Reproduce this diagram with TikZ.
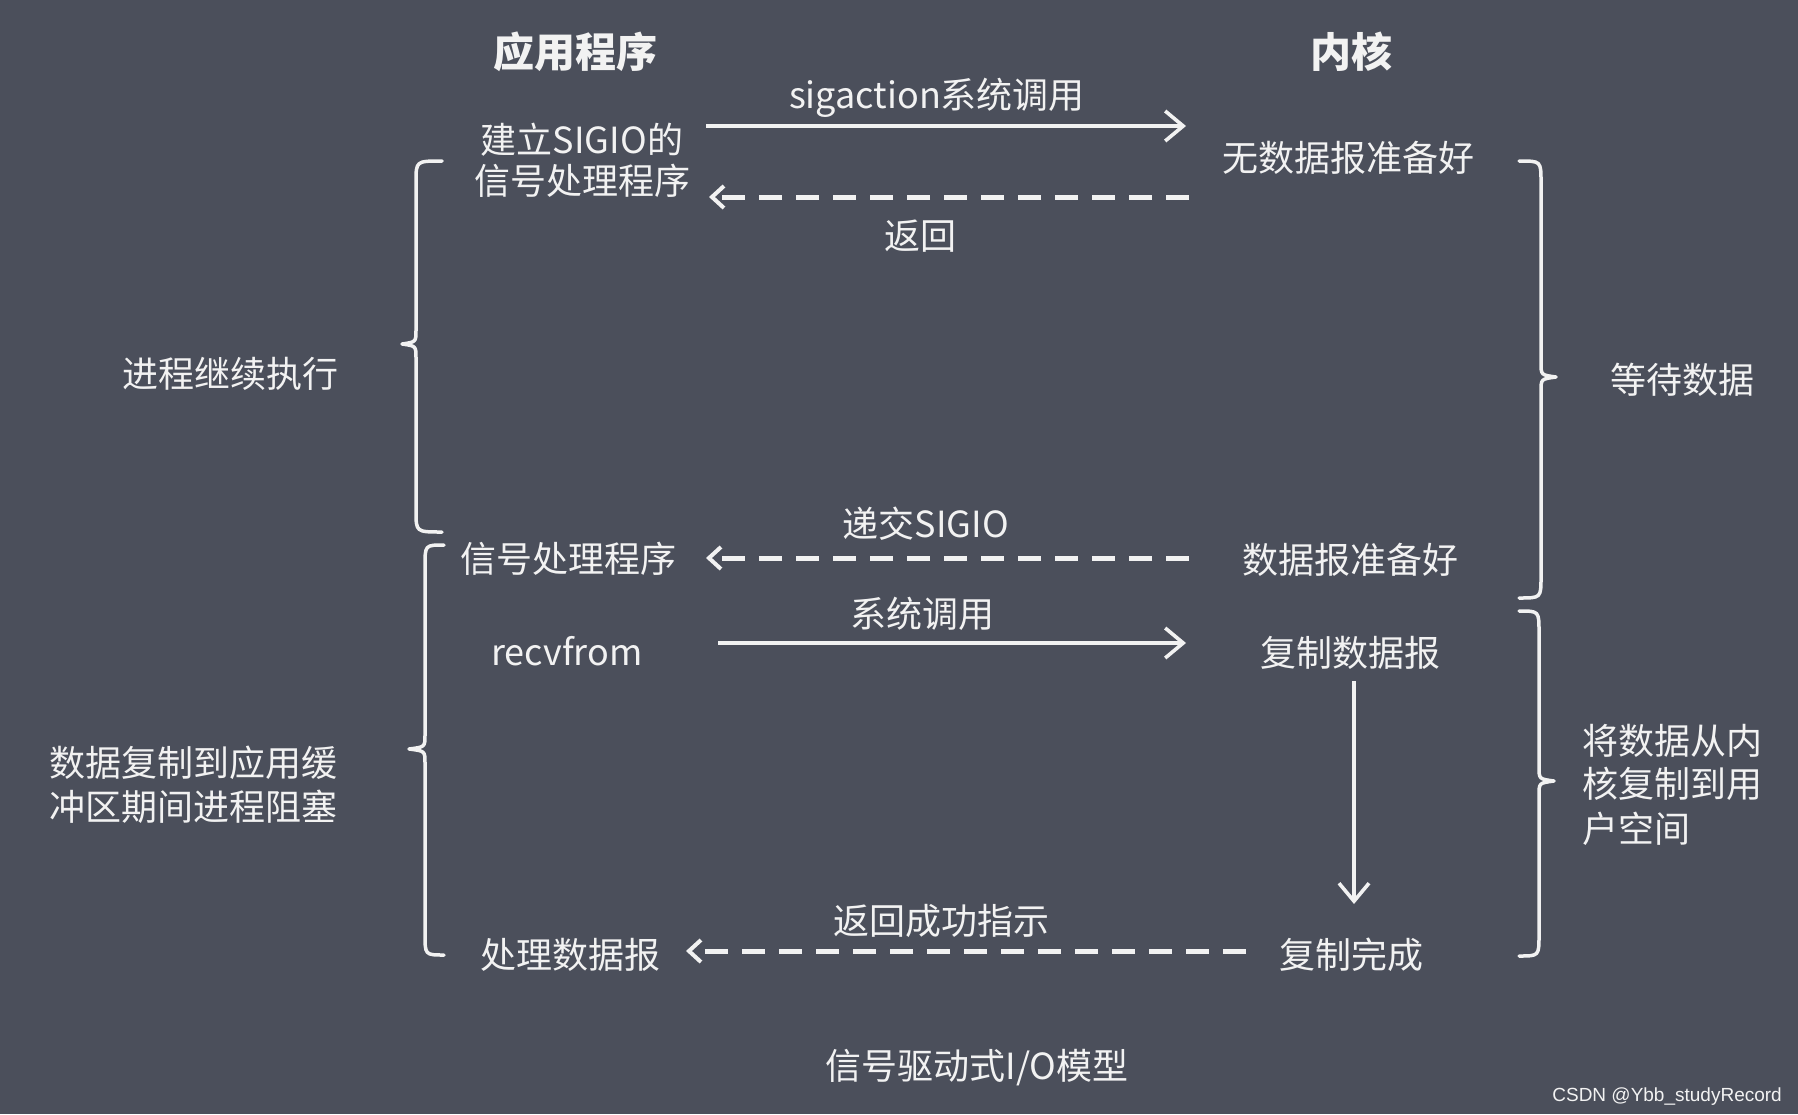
\documentclass[tikz,border=0pt]{standalone}
\usepackage{fontspec}
\setmainfont{Noto Sans CJK SC}
\newfontfamily\wmfont{Liberation Sans}
\usetikzlibrary{arrows.meta}
\definecolor{bgc}{HTML}{4B4F5B}
\definecolor{fgc}{HTML}{F2F2F2}
\begin{document}
\begin{tikzpicture}[x=1pt,y=-1pt,
  lbl/.style={text=fgc, font=\fontsize{36}{40}\selectfont, inner sep=0pt, anchor=base},
  head/.style={lbl, font=\fontsize{41}{46}\selectfont\bfseries},
  wm/.style={text=fgc, font=\wmfont\fontsize{19}{22}\selectfont, inner sep=0pt, anchor=base east},
  solidarrow/.style={draw=fgc, line width=3.6pt, -{Straight Barb[length=18pt,width=30pt,line width=3.6pt]}},
  dasharrow/.style={draw=fgc, line width=5pt, dash pattern=on 23pt off 14pt, -{Straight Barb[length=12pt,width=22pt,line width=4pt]}},
  curly/.style={draw=fgc, line width=3.5pt, line cap=round, line join=round}
]
\fill[bgc] (0,0) rectangle (1798,1114);
\useasboundingbox (0,0) rectangle (1798,1114);

% headers
\node[head] (app) at (575,67) {应用程序};
\node[head] (kern) at (1351,67) {内核};

% texts
\node[lbl] (lsa) at (937,108) {sigaction系统调用};
\node[lbl] (set1a) at (582,153) {建立SIGIO的};
\node[lbl] (set1b) at (582,194) {信号处理程序};
\node[lbl] (nodata) at (1348,171) {无数据报准备好};
\node[lbl] (lret) at (920,249) {返回};
\node[lbl] (cont) at (230,387) {进程继续执行};
\node[lbl] (wait) at (1682,393) {等待数据};
\node[lbl] (ldel) at (926,537) {递交SIGIO};
\node[lbl] (sig2) at (568,572) {信号处理程序};
\node[lbl] (ready) at (1350,573) {数据报准备好};
\node[lbl] (lsys) at (922,627) {系统调用};
\node[lbl] (recv) at (567,665) {recvfrom};
\node[lbl] (copy) at (1350,666) {复制数据报};
\node[lbl, anchor=base west] (cp1) at (1582,754) {将数据从内};
\node[lbl, anchor=base west] (cp2) at (1582,797) {核复制到用};
\node[lbl, anchor=base west] (cp3) at (1582,842) {户空间};
\node[lbl, anchor=base west] (blk1) at (49,776) {数据复制到应用缓};
\node[lbl, anchor=base west] (blk2) at (49,820) {冲区期间进程阻塞};
\node[lbl] (lok) at (941,934) {返回成功指示};
\node[lbl] (proc) at (570,968) {处理数据报};
\node[lbl] (done) at (1351,968) {复制完成};
\node[lbl] (title) at (977,1079) {信号驱动式I/O模型};
\node[wm] (csdn) at (1782,1101) {CSDN @Ybb\_studyRecord};

% arrow end points
\coordinate (a1s) at (706,126);  \coordinate (a1e) at (1186,126);
\coordinate (r1s) at (1189,197); \coordinate (r1e) at (709,197);
\coordinate (d2s) at (1189,558); \coordinate (d2e) at (706,558);
\coordinate (a2s) at (718,643);  \coordinate (a2e) at (1186,643);
\coordinate (v1s) at (1354,681); \coordinate (v1e) at (1354,904);
\coordinate (d3s) at (1246,951); \coordinate (d3e) at (686,951);

\draw[solidarrow] (a1s) -- (a1e);
\draw[dasharrow] (r1s) -- (r1e);
\draw[dasharrow] (d2s) -- (d2e);
\draw[solidarrow] (a2s) -- (a2e);
\draw[solidarrow] (v1s) -- (v1e);
\draw[dasharrow] (d3s) -- (d3e);

% braces
\draw[curly] (442,161) .. controls (416,161) .. (416,182) -- (416,330)
  .. controls (416,342) .. (402,344) .. controls (416,346) .. (416,358)
  -- (416,511) .. controls (416,532) .. (442,532);
\draw[curly] (444,545) .. controls (425,545) .. (425,566) -- (425,735)
  .. controls (425,747) .. (409,749) .. controls (425,751) .. (425,763)
  -- (425,934) .. controls (425,955) .. (444,955);
\draw[curly] (1519,161) .. controls (1541,161) .. (1541,182) -- (1541,363)
  .. controls (1541,375) .. (1556,377) .. controls (1541,379) .. (1541,391)
  -- (1541,577) .. controls (1541,598) .. (1519,598);
\draw[curly] (1519,611) .. controls (1539,611) .. (1539,632) -- (1539,767)
  .. controls (1539,779) .. (1554,781) .. controls (1539,783) .. (1539,795)
  -- (1539,935) .. controls (1539,956) .. (1519,956);
\end{tikzpicture}
\end{document}
